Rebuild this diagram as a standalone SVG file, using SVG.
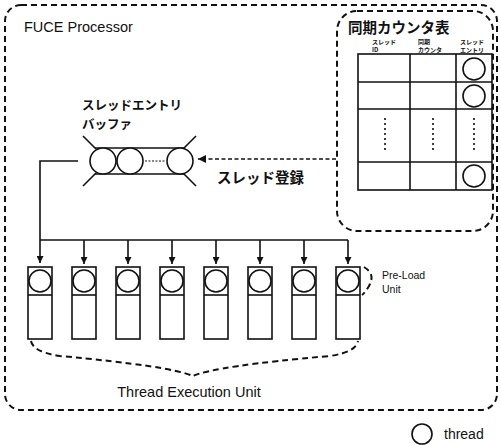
<svg xmlns="http://www.w3.org/2000/svg" width="500" height="445" viewBox="0 0 500 445">
<defs>
<style>
.dash{fill:none;stroke:#111;stroke-width:2;stroke-dasharray:6,4}
.ln{fill:none;stroke:#111;stroke-width:1.6}
.box{fill:#fff;stroke:#111;stroke-width:1.6}
.jp{font-family:"Noto Sans CJK JP","Noto Sans",sans-serif;font-weight:bold;fill:#111}
.en{font-family:"Liberation Sans",Arial,sans-serif;fill:#111}
.dot{fill:none;stroke:#111;stroke-width:1.6;stroke-dasharray:2,3}
</style>
<marker id="ah" viewBox="0 0 10 10" refX="10" refY="5" markerWidth="7" markerHeight="7" orient="auto" markerUnits="userSpaceOnUse">
<path d="M0,0 L10,5 L0,10 z" fill="#111"/>
</marker>
<marker id="ah2" viewBox="0 0 10 10" refX="10" refY="5" markerWidth="10" markerHeight="8" orient="auto" markerUnits="userSpaceOnUse">
<path d="M0,0 L10,5 L0,10 z" fill="#111"/>
</marker>
</defs>
<rect width="500" height="445" fill="#fff"/>

<g id="fuce-processor">
<rect class="dash" x="5" y="5" width="492" height="405" rx="16"/>
<text class="en" x="24" y="32" font-size="14.5">FUCE Processor</text>
</g>

<g id="sync-counter-table">
<rect class="dash" x="337" y="11" width="156" height="220" rx="20"/>
<text class="jp" x="348" y="33" font-size="14.5">同期カウンタ表</text>
<text class="jp" x="372" y="44" font-size="6">スレッド</text>
<text class="jp" x="372" y="52" font-size="6">ID</text>
<text class="jp" x="418" y="44" font-size="6">同期</text>
<text class="jp" x="418" y="52" font-size="6">カウンタ</text>
<text class="jp" x="460" y="44" font-size="6">スレッド</text>
<text class="jp" x="460" y="52" font-size="6">エントリ</text>
<rect class="box" x="358" y="54" width="134" height="136"/>
<line class="ln" x1="410" y1="54" x2="410" y2="190"/>
<line class="ln" x1="456" y1="54" x2="456" y2="190"/>
<line class="ln" x1="358" y1="82" x2="492" y2="82"/>
<line class="ln" x1="358" y1="109" x2="492" y2="109"/>
<line class="ln" x1="358" y1="162" x2="492" y2="162"/>
<circle class="ln" cx="474" cy="69" r="11"/>
<circle class="ln" cx="474" cy="96" r="11"/>
<circle class="ln" cx="474" cy="176" r="11"/>
<line class="dot" x1="385" y1="118" x2="385" y2="150"/>
<line class="dot" x1="433" y1="118" x2="433" y2="150"/>
<line class="dot" x1="474" y1="118" x2="474" y2="150"/>
</g>

<g id="thread-entry-buffer">
<text class="jp" x="82" y="110" font-size="12.5">スレッドエントリ</text>
<text class="jp" x="82" y="129" font-size="12.5">バッファ</text>
<line class="ln" x1="95" y1="148" x2="185" y2="148"/>
<line class="ln" x1="95" y1="174" x2="185" y2="174"/>
<line class="ln" x1="83" y1="136" x2="96" y2="149"/>
<line class="ln" x1="83" y1="186" x2="96" y2="173"/>
<line class="ln" x1="196" y1="136" x2="183" y2="149"/>
<line class="ln" x1="196" y1="186" x2="183" y2="173"/>
<circle class="box" cx="103" cy="161" r="13"/>
<circle class="box" cx="130" cy="161" r="13"/>
<circle class="box" cx="180" cy="161" r="13"/>
<line x1="145" y1="161" x2="166" y2="161" stroke="#111" stroke-width="1.2" stroke-dasharray="2,1.5"/>
</g>

<g id="thread-execution-units">
<g id="teu-1"><rect class="box" x="28" y="267" width="24" height="72"/><line class="ln" x1="28" y1="295" x2="52" y2="295"/><circle class="ln" cx="40" cy="281" r="11"/></g>
<g id="teu-2"><rect class="box" x="72" y="267" width="24" height="72"/><line class="ln" x1="72" y1="295" x2="96" y2="295"/><circle class="ln" cx="84" cy="281" r="11"/></g>
<g id="teu-3"><rect class="box" x="116" y="267" width="24" height="72"/><line class="ln" x1="116" y1="295" x2="140" y2="295"/><circle class="ln" cx="128" cy="281" r="11"/></g>
<g id="teu-4"><rect class="box" x="160" y="267" width="24" height="72"/><line class="ln" x1="160" y1="295" x2="184" y2="295"/><circle class="ln" cx="172" cy="281" r="11"/></g>
<g id="teu-5"><rect class="box" x="204" y="267" width="24" height="72"/><line class="ln" x1="204" y1="295" x2="228" y2="295"/><circle class="ln" cx="216" cy="281" r="11"/></g>
<g id="teu-6"><rect class="box" x="248" y="267" width="24" height="72"/><line class="ln" x1="248" y1="295" x2="272" y2="295"/><circle class="ln" cx="260" cy="281" r="11"/></g>
<g id="teu-7"><rect class="box" x="292" y="267" width="24" height="72"/><line class="ln" x1="292" y1="295" x2="316" y2="295"/><circle class="ln" cx="304" cy="281" r="11"/></g>
<g id="teu-8"><rect class="box" x="336" y="267" width="24" height="72"/><line class="ln" x1="336" y1="295" x2="360" y2="295"/><circle class="ln" cx="348" cy="281" r="11"/></g>
<path class="dash" d="M31,341 Q33,352 60,356 Q170,366 193,376 Q215,366 330,356 Q356,352 358,341"/>
<text class="en" x="189" y="397" font-size="14.5" text-anchor="middle">Thread Execution Unit</text>
</g>

<g id="pre-load-unit">
<path class="dash" d="M364,267 Q376,274 369,286 Q365,293 362,295" stroke-dasharray="4,3"/>
<text class="en" x="382" y="279" font-size="10.5">Pre-Load</text>
<text class="en" x="382" y="293" font-size="10.5">Unit</text>
</g>

<g id="connectors">
<line x1="336" y1="159" x2="198" y2="159" stroke="#111" stroke-width="1.5" stroke-dasharray="4,2.5" marker-end="url(#ah2)"/>
<text class="jp" x="217" y="183" font-size="14.5">スレッド登録</text>
<polyline class="ln" points="78,161 40,161 40,263" marker-end="url(#ah)"/>
<line class="ln" x1="40" y1="240" x2="348" y2="240"/>
<line class="ln" x1="84" y1="240" x2="84" y2="264" marker-end="url(#ah)"/>
<line class="ln" x1="128" y1="240" x2="128" y2="264" marker-end="url(#ah)"/>
<line class="ln" x1="172" y1="240" x2="172" y2="264" marker-end="url(#ah)"/>
<line class="ln" x1="216" y1="240" x2="216" y2="264" marker-end="url(#ah)"/>
<line class="ln" x1="260" y1="240" x2="260" y2="264" marker-end="url(#ah)"/>
<line class="ln" x1="304" y1="240" x2="304" y2="264" marker-end="url(#ah)"/>
<line class="ln" x1="348" y1="240" x2="348" y2="264" marker-end="url(#ah)"/>
</g>

<g id="legend">
<circle class="ln" cx="422" cy="434" r="10"/>
<text class="en" x="444" y="439" font-size="14">thread</text>
</g>
</svg>
